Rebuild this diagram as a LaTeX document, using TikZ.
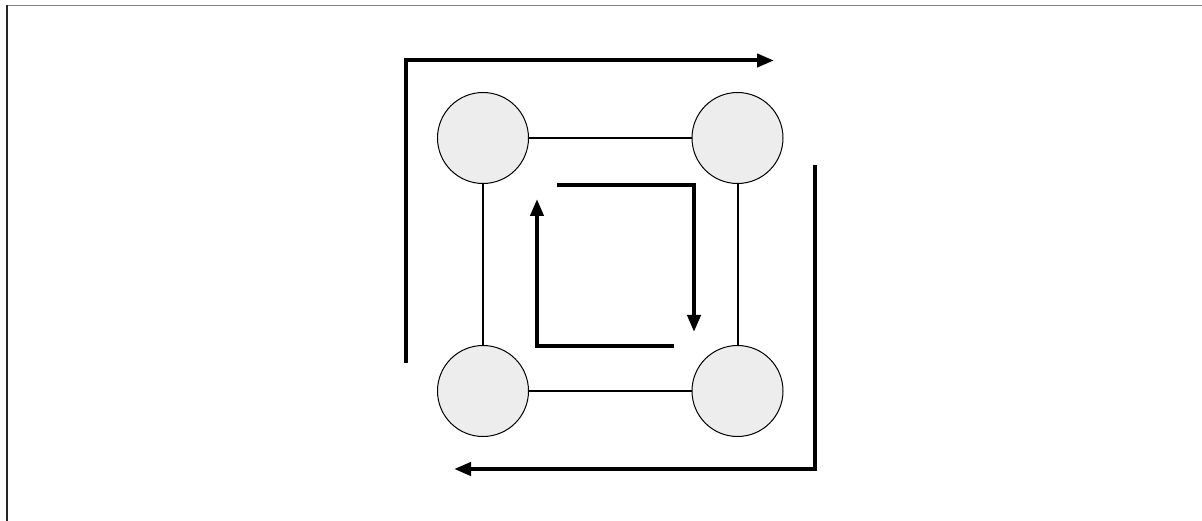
\documentclass[tikz,border=0pt]{standalone}
\usetikzlibrary{arrows.meta}

\begin{document}
\begin{tikzpicture}[x=1pt,y=-1pt,
    station/.style={circle,draw,line width=1pt,fill=black!7,minimum size=91pt,inner sep=0pt},
    link/.style={line width=2pt},
    flow/.style={line width=4pt,-{Triangle[length=17pt,width=13pt]}}]
    \useasboundingbox (0,0) rectangle (1202,521);
    %% Draw the frame
    \draw[black!50,line width=1.5pt] (7,5.5) -- (1202,5.5);
    \draw[black!85,line width=1.5pt] (7,5) -- (7,521);
    %% Draw the nodes
    \node[station] (A) at (483,138) {};
    \node[station] (B) at (737.5,138) {};
    \node[station] (C) at (483,391) {};
    \node[station] (D) at (737.5,391) {};
    %% Draw the links
    \draw[link] (A) -- (B);
    \draw[link] (A) -- (C);
    \draw[link] (B) -- (D);
    \draw[link] (C) -- (D);
    %% Corners of the flows
    \coordinate (O1) at (406,363);
    \coordinate (O2) at (406,60.5);
    \coordinate (O3) at (774,60.5);
    \coordinate (R1) at (815,165);
    \coordinate (R2) at (815,469);
    \coordinate (R3) at (454,469);
    \coordinate (I1) at (557,185.5);
    \coordinate (I2) at (694,185.5);
    \coordinate (I3) at (694,332);
    \coordinate (J1) at (673.5,345.5);
    \coordinate (J2) at (537,345.5);
    \coordinate (J3) at (537,199);
    %% Draw the flows
    \begin{scope}[every path/.style={flow}]
      \draw (O1) -- (O2) -- (O3);
      \draw (R1) -- (R2) -- (R3);
      \draw (I1) -- (I2) -- (I3);
      \draw (J1) -- (J2) -- (J3);
    \end{scope}
\end{tikzpicture}
\end{document}
